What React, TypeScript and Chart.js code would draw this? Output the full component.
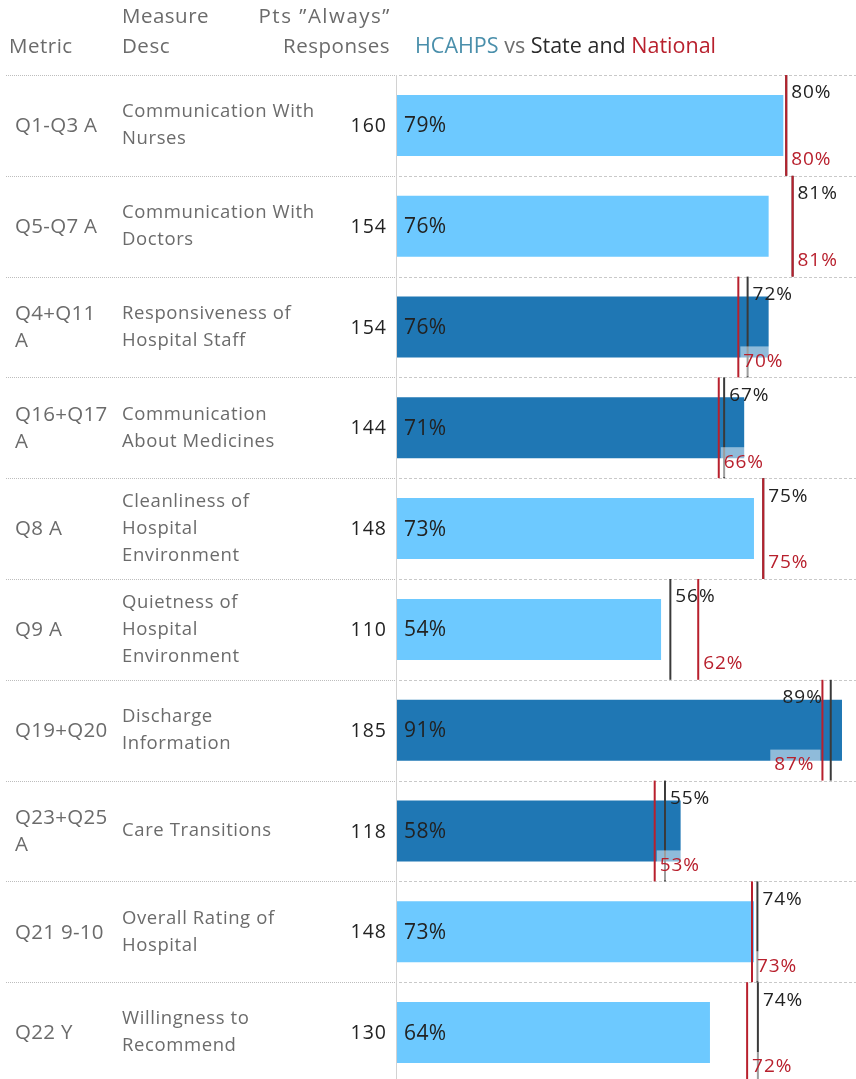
import React, { useEffect, useRef } from "react";
import { Chart, registerables } from "chart.js";
Chart.register(...registerables);

const metrics = ["Q1-Q3 A", "Q5-Q7 A", "Q4+Q11\nA", "Q16+Q17\nA", "Q8 A", "Q9 A", "Q19+Q20", "Q23+Q25\nA", "Q21 9-10", "Q22 Y"];
const descriptions = [
  "Communication With\nNurses",
  "Communication With\nDoctors",
  "Responsiveness of\nHospital Staff",
  "Communication\nAbout Medicines",
  "Cleanliness of\nHospital\nEnvironment",
  "Quietness of\nHospital\nEnvironment",
  "Discharge\nInformation",
  "Care Transitions",
  "Overall Rating of\nHospital",
  "Willingness to\nRecommend",
];
const responses = [160, 154, 154, 144, 148, 110, 185, 118, 148, 130];
const hcahps = [79, 76, 76, 71, 73, 54, 91, 58, 73, 64];
const stateRates = [79.6, 80.9, 71.7, 66.9, 74.9, 55.9, 88.7, 54.8, 73.7, 73.8];
const nationalRates = [79.6, 80.9, 69.8, 65.8, 74.9, 61.6, 87.0, 52.7, 72.6, 71.6];

const FAMILY = "'Open Sans'";
const GRAY = "#6b6b6b";
const DARK = "#222222";
const RED = "#b8202d";
const STATE_C = "#3a3a3a";
const LIGHT_BAR = "#6dc9ff";
const DARK_BAR = "#1f77b4";
const VISIBLE_RIGHT = 856;

function setFont(ctx: any, size: number, spacing: number) {
  ctx.font = `${size}px ${FAMILY}`;
  ctx.letterSpacing = `${spacing}px`;
}

const tablePlugin = {
  id: "tablePlugin",
  beforeDatasetsDraw(chart: any) {
    const ctx = chart.ctx;
    const area = chart.chartArea;
    const y = chart.scales.y;
    const n = metrics.length;
    const band = (area.bottom - area.top) / n;
    ctx.save();
    // separators
    for (let i = 0; i <= n; i++) {
      const yy = Math.round(area.top + i * band) + 0.5;
      ctx.lineWidth = 1;
      ctx.strokeStyle = "#bdbdbd";
      ctx.setLineDash([1, 1]);
      ctx.beginPath();
      ctx.moveTo(6, yy);
      ctx.lineTo(395, yy);
      ctx.stroke();
      ctx.strokeStyle = "#c9c9c9";
      ctx.setLineDash([3, 2]);
      ctx.beginPath();
      ctx.moveTo(399, yy);
      ctx.lineTo(chart.width, yy);
      ctx.stroke();
    }
    ctx.setLineDash([]);
    // axis line
    ctx.strokeStyle = "#d2d2d2";
    ctx.lineWidth = 1;
    ctx.beginPath();
    ctx.moveTo(area.left - 0.5, area.top);
    ctx.lineTo(area.left - 0.5, area.bottom);
    ctx.stroke();

    ctx.textBaseline = "middle";
    // header
    setFont(ctx, 20.5, 0.5);
    ctx.fillStyle = GRAY;
    ctx.textAlign = "left";
    ctx.fillText("Metric", 9, 47);
    ctx.fillText("Measure", 122, 17);
    ctx.fillText("Desc", 122, 47);
    ctx.textAlign = "right";
    ctx.fillText("Responses", 390, 47);
    setFont(ctx, 20.5, 1.5);
    ctx.fillText("Pts \u201DAlways\u201D", 391, 17);
    ctx.textAlign = "left";
    setFont(ctx, 21.5, 0);
    let hx = 415;
    const parts: [string, string][] = [
      ["HCAHPS", "#4a8fab"],
      [" vs ", "#6f6f6f"],
      ["State and ", "#2a2a2a"],
      ["National", RED],
    ];
    for (const [t, c] of parts) {
      ctx.fillStyle = c;
      ctx.fillText(t, hx, 47);
      hx += ctx.measureText(t).width;
    }

    const lh = 27;
    for (let i = 0; i < n; i++) {
      const cy = y.getPixelForValue(i);
      const mLines = metrics[i].split("\n");
      ctx.fillStyle = GRAY;
      ctx.textAlign = "left";
      setFont(ctx, 20.5, 0.3);
      mLines.forEach((t, k) => ctx.fillText(t, 15, cy + 1 + (k - (mLines.length - 1) / 2) * lh));
      setFont(ctx, 18.5, 0.6);
      const dLines = descriptions[i].split("\n");
      dLines.forEach((t, k) => ctx.fillText(t, 122, cy + (k - (dLines.length - 1) / 2) * lh));
      setFont(ctx, 19.5, 1);
      ctx.fillStyle = DARK;
      ctx.textAlign = "right";
      ctx.fillText(String(responses[i]), 387, cy + 1);
    }
    ctx.restore();
  },
  afterDatasetsDraw(chart: any) {
    const ctx = chart.ctx;
    const area = chart.chartArea;
    const x = chart.scales.x;
    const y = chart.scales.y;
    const n = metrics.length;
    const band = (area.bottom - area.top) / n;
    ctx.save();
    ctx.textBaseline = "middle";
    for (let i = 0; i < n; i++) {
      const cy = y.getPixelForValue(i);
      const top = area.top + i * band;
      const bottom = top + band;
      // bar label
      setFont(ctx, 21, 0.4);
      ctx.fillStyle = DARK;
      ctx.textAlign = "left";
      ctx.fillText(hcahps[i] + "%", area.left + 7, cy + 1);
      const sx = x.getPixelForValue(stateRates[i]);
      const nx = x.getPixelForValue(nationalRates[i]);
      ctx.lineWidth = 2;
      ctx.strokeStyle = STATE_C;
      ctx.beginPath();
      ctx.moveTo(sx, top);
      ctx.lineTo(sx, bottom);
      ctx.stroke();
      ctx.strokeStyle = RED;
      ctx.beginPath();
      ctx.moveTo(nx, top);
      ctx.lineTo(nx, bottom);
      ctx.stroke();
      setFont(ctx, 19, 0.9);
      // state label
      const sText = Math.round(stateRates[i]) + "%";
      const sw = ctx.measureText(sText).width;
      ctx.fillStyle = "#222";
      const sy = top + 18;
      if (sx + 5 + sw > VISIBLE_RIGHT) {
        ctx.textAlign = "right";
        ctx.fillText(sText, sx - 8, sy);
      } else {
        ctx.textAlign = "left";
        ctx.fillText(sText, sx + 5, sy);
      }
      // national label
      const nText = Math.round(nationalRates[i]) + "%";
      const nw = ctx.measureText(nText).width;
      const ny = bottom - 16;
      let bx0: number, bx1: number, tx: number;
      let align: CanvasTextAlign;
      if (nx + 5 + nw > VISIBLE_RIGHT) {
        bx1 = nx - 2;
        bx0 = nx - 8 - nw - 4;
        tx = nx - 8;
        align = "right";
      } else {
        bx0 = nx + 2;
        bx1 = nx + 5 + nw + 4;
        tx = nx + 5;
        align = "left";
      }
      ctx.fillStyle = "rgba(255,255,255,0.5)";
      ctx.fillRect(bx0, ny - 15, bx1 - bx0, Math.min(30, bottom - (ny - 15)));
      ctx.fillStyle = RED;
      ctx.textAlign = align;
      ctx.fillText(nText, tx, ny);
    }
    ctx.restore();
  },
};

export default function App() {
  const ref = useRef<HTMLCanvasElement>(null);
  useEffect(() => {
    if (!ref.current) return;
    const colors = hcahps.map((v, i) => (v > stateRates[i] && v > nationalRates[i] ? DARK_BAR : LIGHT_BAR));
    const chart = new Chart(ref.current, {
      type: "bar",
      data: {
        labels: metrics,
        datasets: [
          {
            data: hcahps,
            backgroundColor: colors,
            barPercentage: 0.605,
            categoryPercentage: 1,
            borderWidth: 0,
          },
        ],
      },
      options: {
        indexAxis: "y",
        animation: false,
        responsive: false,
        devicePixelRatio: 1,
        layout: { padding: { left: 397, top: 75, right: 0, bottom: 0 } },
        plugins: { legend: { display: false }, tooltip: { enabled: false } },
        scales: {
          x: { display: false, min: 0, max: 100 },
          y: { display: false },
        },
      },
      plugins: [tablePlugin],
    });
    return () => chart.destroy();
  }, []);
  return (
    <div style={{ position: "absolute", left: 0, top: 0, width: 856, height: 1079, overflow: "hidden", background: "#fff" }}>
      <canvas ref={ref} width={886} height={1083} style={{ display: "block" }} />
    </div>
  );
}
